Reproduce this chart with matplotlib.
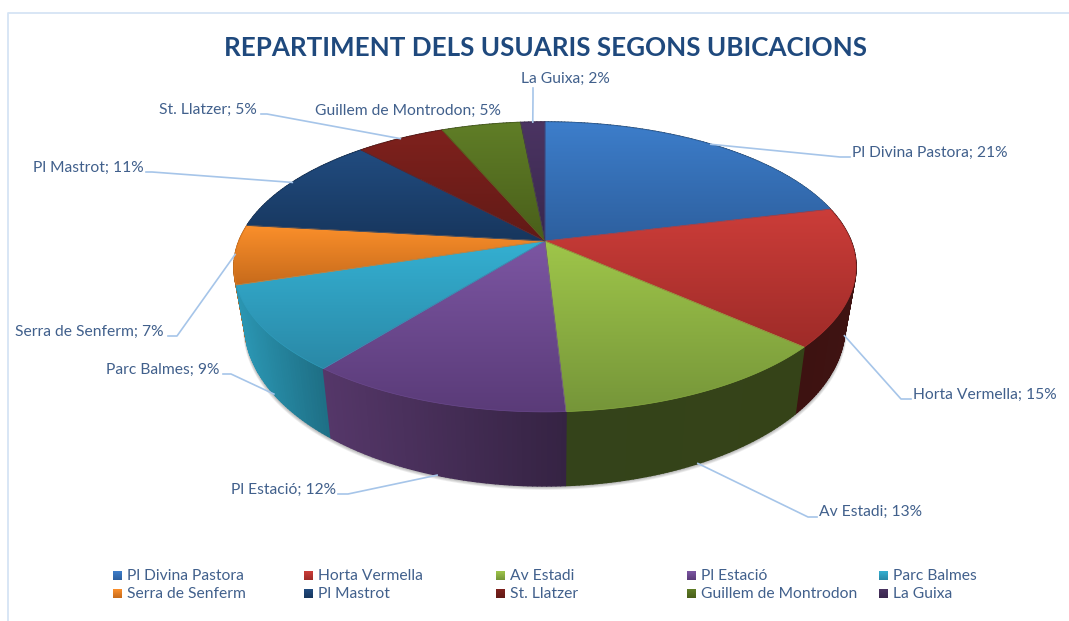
import numpy as np
import matplotlib
matplotlib.use("Agg")
import matplotlib.pyplot as plt
from matplotlib.collections import PolyCollection
from matplotlib.colors import to_rgb, LinearSegmentedColormap
from matplotlib.patches import Polygon

# ---- data ----
TITLE = "REPARTIMENT DELS USUARIS SEGONS UBICACIONS"
categories = ["Pl Divina Pastora", "Horta Vermella", "Av Estadi", "Pl Estació", "Parc Balmes",
              "Serra de Senferm", "Pl Mastrot", "St. Llatzer", "Guillem de Montrodon", "La Guixa"]
shares = [21.2, 15.4, 12.5, 11.6, 9.5, 6.6, 11.3, 5.5, 4.9, 1.5]
percent_labels = [21, 15, 13, 12, 9, 7, 11, 5, 5, 2]

# ---- style ----
top_colors = [("#3d7ecb", "#2d5f9e"), ("#cc3d39", "#9e2b28"), ("#9fc64a", "#759539"),
              ("#7c56a3", "#5a3b78"), ("#34b0d2", "#2a88a6"), ("#fc902b", "#c66a1b"),
              ("#214c80", "#17365d"), ("#7f211d", "#611a16"), ("#607e27", "#495e1a"),
              ("#4b3462", "#39274d")]
side_colors = [("#1d3c60", "#1d3c60"), ("#3d1211", "#3f1312"), ("#34431a", "#354318"),
               ("#553769", "#352343"), ("#2b97b4", "#1e6f85"), ("#b8661c", "#b8661c"),
               ("#12263f", "#12263f"), ("#3d1211", "#3d1211"), ("#34431a", "#34431a"),
               ("#352343", "#352343")]
TEXT = "#41608c"
TITLE_C = "#1f497d"
LEADER = "#a6c5e9"
FONT = "Lato"
LABEL_SIZE = 11.25

# projection of the tilted disc onto the picture
CX, CY, RX, RY, K = 545.0, 241.0, 306.0, 140.3, 0.179
def top_xy(theta):
    u, v = np.sin(theta), np.cos(theta)
    w = 1 + K * v
    return CX + RX * u / w, CY - RY * v / w
def low_xy(theta):
    x, y = top_xy(theta)
    return CX + 0.965 * (x - CX), 1.11 * y + 28.7

fig = plt.figure(figsize=(10.69, 6.21), dpi=100)
ax = fig.add_axes([0, 0, 1, 1])
ax.set_xlim(0, 1069)
ax.set_ylim(621, 0)
ax.axis("off")

# chart frame
ax.plot([7.5, 7.5, 1069], [621, 13, 13], color="#d5e4f5", lw=1.3, zorder=1)

fractions = np.array(shares) / sum(shares)
edges = np.concatenate([[0], np.cumsum(fractions)]) * 2 * np.pi
mids = (edges[:-1] + edges[1:]) / 2

# soft shadow under the lower rim
full = np.linspace(0, 2 * np.pi, 400)
lx, ly = low_xy(full)
for d in (5, 4, 3, 2, 1):
    sx = CX + (lx - CX) * (1 + d * 0.0012)
    ax.add_patch(Polygon(np.c_[sx, ly + d * 0.8], closed=True, fc="#000000", ec="none",
                         alpha=0.07, zorder=2))

# outer wall, built from thin quads, painted back to front
quads, cols, order = [], [], []
for i in range(len(shares)):
    th = np.linspace(edges[i], edges[i + 1], max(3, int(fractions[i] * 500)))
    c0, c1 = np.array(to_rgb(side_colors[i][0])), np.array(to_rgb(side_colors[i][1]))
    xs = top_xy(th)[0]
    xmin, xmax = xs.min(), xs.max()
    for a, b in zip(th[:-1], th[1:]):
        xa, ya = top_xy(a)
        xb, yb = top_xy(b)
        xc, yc = low_xy(b)
        xd, yd = low_xy(a)
        quads.append([(xa, ya), (xb, yb), (xc, yc), (xd, yd)])
        t = ((xa + xb) / 2 - xmin) / max(xmax - xmin, 1)
        cols.append(c0 + (c1 - c0) * t)
        order.append(-np.cos((a + b) / 2))
idx = np.argsort(order)
ax.add_collection(PolyCollection([quads[j] for j in idx], facecolors=[cols[j] for j in idx],
                                 edgecolors=[cols[j] for j in idx], linewidths=1.1, zorder=3))

# top face: vertical gradient clipped to every slice
grad = np.linspace(0, 1, 256).reshape(-1, 1)
for i in range(len(shares)):
    th = np.linspace(edges[i], edges[i + 1], 120)
    x, y = top_xy(th)
    poly = np.vstack([[CX, CY], np.c_[x, y]])
    cmap = LinearSegmentedColormap.from_list(f"s{i}", top_colors[i])
    ext = (poly[:, 0].min() - 1, poly[:, 0].max() + 1, poly[:, 1].max() + 1, poly[:, 1].min() - 1)
    im = ax.imshow(grad, cmap=cmap, extent=ext, aspect="auto", origin="upper",
                   interpolation="bilinear", zorder=4)
    patch = Polygon(poly, closed=True, transform=ax.transData, fc="none", ec="none")
    ax.add_patch(patch)
    im.set_clip_path(patch)
    mid = np.mean([to_rgb(top_colors[i][0]), to_rgb(top_colors[i][1])], axis=0)
    ax.add_patch(Polygon(poly, closed=True, fc="none", ec=mid, lw=0.5, zorder=4.5))
ax.set_xlim(0, 1069)
ax.set_ylim(621, 0)

# title
ax.text(545, 48.5, TITLE, color=TITLE_C, family=FONT, weight="bold", fontsize=18.75,
        ha="center", va="center", zorder=6)

# data labels: (text x, text y, ha, elbow, line end, rim)
label_layout = [
    (852, 153, "left", (840, 157), (850, 157), "top"),
    (913, 395, "left", (901, 399), (911, 399), "low"),
    (819, 512, "left", (808, 517), (817, 517), "low"),
    (336, 490, "right", (348, 494), (338, 494), "low"),
    (219, 370, "right", (231, 374), (223, 374), "low"),
    (164, 332, "right", (177, 336), (168, 336), "top"),
    (144, 168, "right", (152, 172), (146, 172), "top"),
    (257, 110, "right", (267, 114), (261, 114), "top"),
    (315, 111, "left", None, None, None),
    (521, 79, "left", (533, 98), (533, 88), "top"),
]
for i, (tx, ty, ha, elbow, end, rim) in enumerate(label_layout):
    ax.text(tx, ty, f"{categories[i]}; {percent_labels[i]}%", color=TEXT, family=FONT,
            fontsize=LABEL_SIZE, ha=ha, va="center", zorder=6)
    if elbow is not None:
        rx, ry = (top_xy if rim == "top" else low_xy)(mids[i])
        ax.plot([rx, elbow[0], end[0]], [ry, elbow[1], end[1]], color=LEADER, lw=1.2, zorder=5,
                solid_joinstyle="round")

# legend
legend_x = [113, 304, 496, 687, 879]
legend_y = [575.5, 593.5]
for i, name in enumerate(categories):
    col, row = i % 5, i // 5
    x0, y0 = legend_x[col], legend_y[row]
    cmap = LinearSegmentedColormap.from_list(f"l{i}", top_colors[i])
    ax.imshow(grad, cmap=cmap, extent=(x0, x0 + 9, y0 + 4.5, y0 - 4.5), aspect="auto",
              origin="upper", interpolation="bilinear", zorder=6)
    ax.text(x0 + 14, y0 + 0.5, name, color=TEXT, family=FONT, fontsize=LABEL_SIZE,
            ha="left", va="center", zorder=6)
ax.set_xlim(0, 1069)
ax.set_ylim(621, 0)

fig.savefig("out.png", dpi=100, facecolor="white")
